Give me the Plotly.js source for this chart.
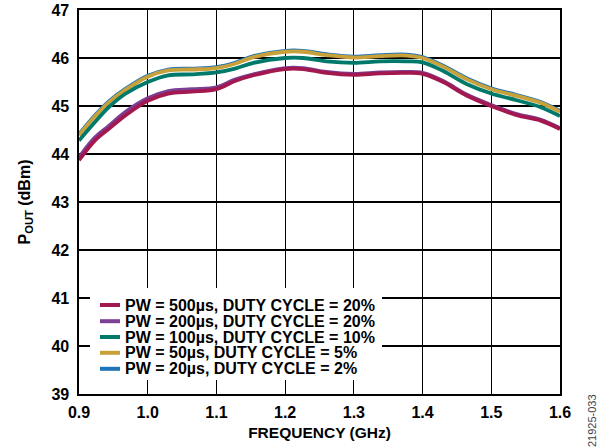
<!DOCTYPE html>
<html>
<head>
<meta charset="utf-8">
<script src="https://cdn.plot.ly/plotly-3.0.1.min.js"></script>
<style>html,body{margin:0;padding:0;background:#fff;}#chart{width:600px;height:448px;}</style>
</head>
<body>
<div id="chart"></div>
<script>
var freq = [0.90, 0.923, 0.943, 0.967, 1.00, 1.03, 1.064, 1.10, 1.127, 1.154, 1.20, 1.226, 1.26, 1.30, 1.338, 1.377, 1.40, 1.43, 1.464, 1.50, 1.537, 1.571, 1.60];
var pw20 = [44.41, 44.80, 45.09, 45.35, 45.63, 45.76, 45.78, 45.81, 45.90, 46.04, 46.15, 46.15, 46.08, 46.03, 46.06, 46.07, 46.02, 45.84, 45.58, 45.37, 45.23, 45.09, 44.90];
var pw50 = [44.39, 44.78, 45.07, 45.33, 45.61, 45.74, 45.76, 45.79, 45.88, 46.02, 46.13, 46.13, 46.06, 46.01, 46.04, 46.05, 46.00, 45.82, 45.56, 45.35, 45.21, 45.07, 44.88];
var pw100 = [44.28, 44.66, 44.97, 45.25, 45.50, 45.64, 45.66, 45.70, 45.78, 45.90, 46.00, 46.00, 45.93, 45.90, 45.93, 45.93, 45.91, 45.73, 45.46, 45.26, 45.12, 44.98, 44.79];
var pw200 = [43.93, 44.34, 44.58, 44.87, 45.16, 45.31, 45.35, 45.39, 45.55, 45.66, 45.79, 45.79, 45.71, 45.67, 45.70, 45.71, 45.69, 45.52, 45.24, 45.02, 44.83, 44.72, 44.54];
var pw500 = [43.87, 44.28, 44.52, 44.80, 45.11, 45.26, 45.30, 45.35, 45.52, 45.64, 45.77, 45.77, 45.69, 45.65, 45.68, 45.69, 45.67, 45.50, 45.22, 45.00, 44.81, 44.70, 44.52];
var names = ["PW = 500µs, DUTY CYCLE = 20%", "PW = 200µs, DUTY CYCLE = 20%", "PW = 100µs, DUTY CYCLE = 10%", "PW = 50µs, DUTY CYCLE = 5%", "PW = 20µs, DUTY CYCLE = 2%"];
var colors = ["#A3184F", "#7B3F94", "#00796B", "#C9A13B", "#1F74BA"];
var series = [pw500, pw200, pw100, pw50, pw20];

var FF = "Arial, 'Liberation Sans', sans-serif";
var traces = [];
for (var i = series.length - 1; i >= 0; i--) {
  traces.push({
    x: freq, y: series[i], name: names[i], mode: "lines", type: "scatter",
    line: {color: colors[i], width: 3.8, shape: "spline", smoothing: 1}
  });
}

// legend drawn as annotations + line samples inside a white box
var plotL = 79, plotW = 481, plotB = 394, plotH = 384;
function px2x(p) { return (p - plotL) / plotW; }
function px2y(p) { return (plotB - p) / plotH; }
var rowY = [305, 321.2, 337, 352.8, 368.8];
var shapes = [{
  type: "rect", xref: "paper", yref: "paper", layer: "above",
  x0: px2x(90), x1: px2x(382), y0: px2y(380), y1: px2y(288),
  fillcolor: "#fff", line: {width: 0}
}];
var annotations = [];
for (var k = 0; k < names.length; k++) {
  shapes.push({
    type: "line", xref: "paper", yref: "paper", layer: "above",
    x0: px2x(100), x1: px2x(120), y0: px2y(rowY[k]), y1: px2y(rowY[k]),
    line: {color: colors[k], width: 4}
  });
  annotations.push({
    text: names[k], xref: "paper", yref: "paper", x: px2x(124), y: px2y(rowY[k]),
    xanchor: "left", yanchor: "middle", showarrow: false, borderpad: 0,
    font: {family: FF, size: 16, color: "#000", weight: "bold"}
  });
}
annotations.push({
  text: "21925-033", xref: "paper", yref: "paper", x: px2x(592), y: px2y(421),
  xanchor: "center", yanchor: "middle", textangle: -90,
  showarrow: false, font: {family: FF, size: 11, color: "#444"}
});

var layout = {
  width: 600, height: 448,
  margin: {l: 79, r: 40, t: 10, b: 54},
  paper_bgcolor: "#fff", plot_bgcolor: "#fff",
  font: {family: FF, size: 16, color: "#000"},
  showlegend: false,
  xaxis: {
    range: [0.9, 1.6], dtick: 0.1, tick0: 0.9, tickformat: ".1f",
    showgrid: true, gridcolor: "#000", gridwidth: 1.2,
    showline: true, linecolor: "#000", linewidth: 1.6, mirror: true,
    zeroline: false, ticks: "", ticklen: 0, ticklabelstandoff: 3,
    tickfont: {family: FF, size: 16, color: "#000", weight: "bold"},
    title: {text: "FREQUENCY (GHz)", font: {family: FF, size: 15.5, color: "#000", weight: "bold"}, standoff: 7}
  },
  yaxis: {
    range: [39, 47], dtick: 1,
    showgrid: true, gridcolor: "#000", gridwidth: 1.2,
    showline: true, linecolor: "#000", linewidth: 1.6, mirror: true,
    zeroline: false, ticks: "", ticklen: 0, ticklabelstandoff: 5,
    tickfont: {family: FF, size: 16, color: "#000", weight: "bold"},
    title: {text: "P<sub>OUT</sub> (dBm)", font: {family: FF, size: 16, color: "#000", weight: "bold"}, standoff: 17}
  },
  shapes: shapes,
  annotations: annotations
};

Plotly.newPlot("chart", traces, layout, {displayModeBar: false, staticPlot: true});
</script>
</body>
</html>
